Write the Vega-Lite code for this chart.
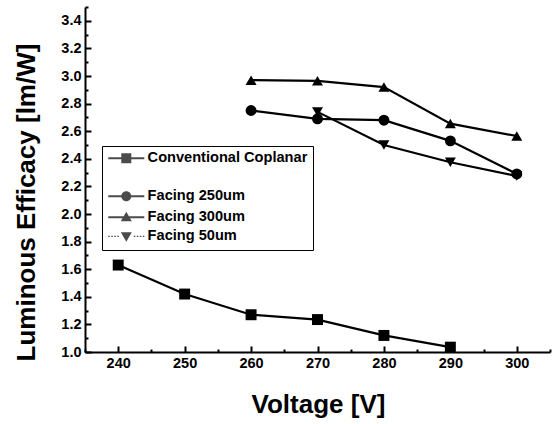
{
  "$schema": "https://vega.github.io/schema/vega-lite/v6.json",
  "width": 465,
  "height": 345,
  "autosize": {"type": "none"},
  "padding": {"left": 85, "top": 7, "right": 2, "bottom": 72},
  "background": "white",
  "config": {"view": {"stroke": null}, "font": "Liberation Sans"},
  "data": {"values": [
    {"series": "Conventional Coplanar", "voltage": 240, "efficacy": 1.63},
    {"series": "Conventional Coplanar", "voltage": 250, "efficacy": 1.42},
    {"series": "Conventional Coplanar", "voltage": 260, "efficacy": 1.27},
    {"series": "Conventional Coplanar", "voltage": 270, "efficacy": 1.235},
    {"series": "Conventional Coplanar", "voltage": 280, "efficacy": 1.12},
    {"series": "Conventional Coplanar", "voltage": 290, "efficacy": 1.035},
    {"series": "Facing 250um", "voltage": 260, "efficacy": 2.75},
    {"series": "Facing 250um", "voltage": 270, "efficacy": 2.69},
    {"series": "Facing 250um", "voltage": 280, "efficacy": 2.68},
    {"series": "Facing 250um", "voltage": 290, "efficacy": 2.53},
    {"series": "Facing 250um", "voltage": 300, "efficacy": 2.29},
    {"series": "Facing 300um", "voltage": 260, "efficacy": 2.97},
    {"series": "Facing 300um", "voltage": 270, "efficacy": 2.965},
    {"series": "Facing 300um", "voltage": 280, "efficacy": 2.92},
    {"series": "Facing 300um", "voltage": 290, "efficacy": 2.655},
    {"series": "Facing 300um", "voltage": 300, "efficacy": 2.565},
    {"series": "Facing 50um", "voltage": 270, "efficacy": 2.74},
    {"series": "Facing 50um", "voltage": 280, "efficacy": 2.5},
    {"series": "Facing 50um", "voltage": 290, "efficacy": 2.375},
    {"series": "Facing 50um", "voltage": 300, "efficacy": 2.275}
  ]},
  "encoding": {
    "x": {
      "field": "voltage", "type": "quantitative",
      "scale": {"domain": [235, 305], "nice": false, "zero": false},
      "axis": {
        "values": [235, 240, 245, 250, 255, 260, 265, 270, 275, 280, 285, 290, 295, 300, 305],
        "labelExpr": "datum.value % 10 == 0 ? datum.label : ''",
        "grid": false,
        "title": "Voltage [V]",
        "titleFont": "Liberation Sans", "titleFontSize": 26, "titleFontWeight": "bold", "titleColor": "black",
        "titleX": 233, "titleY": 60, "titleBaseline": "alphabetic", "titleAlign": "center",
        "labelFont": "Liberation Sans", "labelFontSize": 14.5, "labelFontWeight": "bold", "labelColor": "black",
        "labelPadding": 10, "labelFlush": false, "labelOverlap": false,
        "domainColor": "black", "domainWidth": 2,
        "tickColor": "black", "tickWidth": 2,
        "tickSize": {"condition": {"test": "datum.value % 10 != 0", "value": -3}, "value": -6}
      }
    },
    "y": {
      "field": "efficacy", "type": "quantitative",
      "scale": {"domain": [1.0, 3.5], "nice": false, "zero": false},
      "axis": {
        "values": [1.0, 1.1, 1.2, 1.3, 1.4, 1.5, 1.6, 1.7, 1.8, 1.9, 2.0, 2.1, 2.2, 2.3, 2.4, 2.5, 2.6, 2.7, 2.8, 2.9, 3.0, 3.1, 3.2, 3.3, 3.4, 3.5],
        "labelExpr": "round(datum.value * 10) % 2 == 0 ? format(datum.value, '.1f') : ''",
        "grid": false,
        "title": "Luminous Efficacy [lm/W]",
        "titleFont": "Liberation Sans", "titleFontSize": 26, "titleFontWeight": "bold", "titleColor": "black",
        "titleX": -51, "titleY": 195, "titleBaseline": "alphabetic", "titleAlign": "center", "titleAngle": -90,
        "labelFont": "Liberation Sans", "labelFontSize": 14.5, "labelFontWeight": "bold", "labelColor": "black",
        "labelPadding": 10, "labelFlush": false, "labelOverlap": false,
        "domainColor": "black", "domainWidth": 2,
        "tickColor": "black", "tickWidth": 2,
        "tickSize": {"condition": {"test": "round(datum.value * 10) % 2 == 1", "value": -3}, "value": -6}
      }
    }
  },
  "layer": [
    {
      "mark": {"type": "line", "color": "black", "strokeWidth": 2.2},
      "encoding": {"detail": {"field": "series", "type": "nominal"}}
    },
    {
      "mark": {"type": "point", "filled": true, "color": "black", "size": 120, "opacity": 1},
      "encoding": {
        "shape": {
          "field": "series", "type": "nominal",
          "scale": {
            "domain": ["Conventional Coplanar", "Facing 250um", "Facing 300um", "Facing 50um"],
            "range": ["square", "circle", "triangle-up", "triangle-down"]
          },
          "legend": null
        }
      }
    },
    {
      "transform": [{"filter": "false"}],
      "mark": {"type": "point", "filled": true, "color": "black", "size": 100},
      "encoding": {
        "shape": {
          "field": "series", "type": "nominal",
          "scale": {
            "domain": ["Conventional Coplanar", " ", "Facing 250um", "Facing 300um", "Facing 50um"],
            "range": [
              "M-1.2,-0.2L6.0,-0.2L6.0,0.2L-1.2,0.2ZM1.4,-1L3.4,-1L3.4,1L1.4,1Z",
              "M0,0",
              "M-1.2,-0.2L6.0,-0.2L6.0,0.2L-1.2,0.2ZM3.4,0A1,1,0,1,1,1.4,0A1,1,0,1,1,3.4,0Z",
              "M-1.2,-0.2L6.0,-0.2L6.0,0.2L-1.2,0.2ZM2.4,-1.1L3.5,0.8L1.3,0.8Z",
              "M-1.2,-0.12L-0.9,-0.12L-0.9,0.12L-1.2,0.12ZM-0.6,-0.12L-0.3,-0.12L-0.3,0.12L-0.6,0.12ZM0,-0.12L0.3,-0.12L0.3,0.12L0,0.12ZM0.6,-0.12L0.9,-0.12L0.9,0.12L0.6,0.12ZM3.9,-0.12L4.2,-0.12L4.2,0.12L3.9,0.12ZM4.5,-0.12L4.8,-0.12L4.8,0.12L4.5,0.12ZM5.1,-0.12L5.4,-0.12L5.4,0.12L5.1,0.12ZM5.7,-0.12L6.0,-0.12L6.0,0.12L5.7,0.12ZM2.4,1.1L1.3,-0.8L3.5,-0.8Z"
            ]
          },
          "legend": {
            "title": null,
            "orient": "none",
            "legendX": 17,
            "legendY": 139,
            "direction": "vertical",
            "strokeColor": "black",
            "fillColor": "white",
            "padding": 5,
            "labelFont": "Liberation Sans",
            "labelFontSize": 14.6,
            "labelFontWeight": "bold",
            "labelColor": "black",
            "labelLimit": 400,
            "labelOffset": 26,
            "rowPadding": 3,
            "symbolSize": 100,
            "symbolFillColor": "black"
          }
        }
      }
    }
  ],
  "resolve": {"scale": {"shape": "independent"}}
}
